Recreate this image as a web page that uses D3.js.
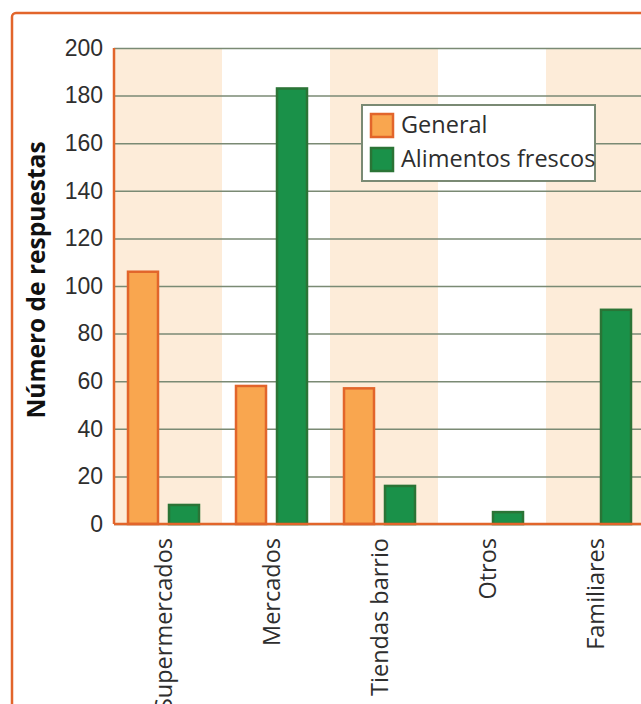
<!DOCTYPE html>
<html>
<head>
<meta charset="utf-8">
<script src="https://cdn.jsdelivr.net/npm/d3@7"></script>
<style>
  body { margin: 0; background: #fff; }
  svg { display: block; font-family: "Open Sans", sans-serif; }
</style>
</head>
<body>
<svg id="chart" width="641" height="704"></svg>
<script>
(function () {
    'use strict';

    var categories = ["Supermercados", "Mercados", "Tiendas barrio", "Otros", "Familiares"];
    var general = [106, 58, 57, 0, 0];
    var frescos = [8, 183, 16, 5, 90];
    var seriesNames = ["General", "Alimentos frescos"];
    var yTicks = [0, 20, 40, 60, 80, 100, 120, 140, 160, 180, 200];

    var orange = "#f9a64f", orangeLine = "#e2652b",
        green = "#1a9149", greenLine = "#2b7436",
        shade = "#fdecd9", grid = "#7a8a74", ink = "#2e2e2e";

    var svg = d3.select("#chart");
    var left = 114, right = 654, top = 48, bottom = 524;

    // outer frame, runs off the right and bottom of the picture
    svg.append("rect")
        .attr("x", 12).attr("y", 13)
        .attr("width", 700).attr("height", 760)
        .attr("rx", 4)
        .attr("fill", "none")
        .attr("stroke", orangeLine)
        .attr("stroke-width", 2.5);

    var x = d3.scaleBand().domain(categories).range([left, right]);
    var y = d3.scaleLinear().domain([0, 200]).range([bottom, top]);
    var inner = d3.scaleOrdinal().domain(seriesNames).range([-40, 1]);

    svg.selectAll("rect.band")
        .data(categories)
        .enter()
        .append("rect")
        .attr("class", "band")
        .attr("x", function (d) { return x(d); })
        .attr("y", top)
        .attr("width", x.bandwidth())
        .attr("height", bottom - top)
        .attr("fill", function (d, i) { return i % 2 === 0 ? shade : "#fff"; });

    svg.append("g")
        .attr("transform", "translate(" + left + ",0)")
        .call(d3.axisLeft(y).tickValues(yTicks).tickSize(-(right - left)).tickPadding(11))
        .call(function (g) {
            g.select(".domain").remove();
            g.selectAll(".tick line").attr("stroke", grid).attr("stroke-width", 1.5);
            g.selectAll(".tick text")
                .attr("font-size", 23)
                .attr("fill", ink);
        });

    var rows = categories.map(function (c, i) {
        return { cat: c, values: [general[i], frescos[i]] };
    });

    var groups = svg.selectAll("g.cat")
        .data(rows)
        .enter()
        .append("g")
        .attr("class", "cat");

    groups.selectAll("rect")
        .data(function (d) {
            return d.values.map(function (v, j) {
                return { cat: d.cat, name: seriesNames[j], value: v, j: j };
            }).filter(function (e) { return e.value > 0; });
        })
        .enter()
        .append("rect")
        .attr("x", function (d) { return x(d.cat) + x.bandwidth() / 2 + inner(d.name); })
        .attr("y", function (d) { return y(d.value); })
        .attr("width", 30)
        .attr("height", function (d) { return bottom - y(d.value); })
        .attr("fill", function (d) { return d.j === 0 ? orange : green; })
        .attr("stroke", function (d) { return d.j === 0 ? orangeLine : greenLine; })
        .attr("stroke-width", 2.5);

    // axis lines
    svg.append("line")
        .attr("x1", left).attr("x2", left)
        .attr("y1", top).attr("y2", bottom)
        .attr("stroke", orangeLine).attr("stroke-width", 2.5);
    svg.append("line")
        .attr("x1", left).attr("x2", 641)
        .attr("y1", bottom).attr("y2", bottom)
        .attr("stroke", orangeLine).attr("stroke-width", 2.5);

    // category labels
    svg.selectAll("text.cat")
        .data(categories)
        .enter()
        .append("text")
        .attr("class", "cat")
        .attr("transform", function (d) {
            return "translate(" + (x(d) + x.bandwidth() / 2 - 4) + "," + 538 + ") rotate(-90)";
        })
        .attr("text-anchor", "end")
        .attr("dy", "0.35em")
        .attr("font-size", 23.5)
        .attr("fill", ink)
        .text(function (d) { return d; });

    svg.append("text")
        .attr("transform", "translate(36," + 280 + ") rotate(-90)")
        .attr("text-anchor", "middle")
        .attr("dy", "0.35em")
        .attr("font-size", 24.5)
        .attr("font-weight", 700)
        .attr("fill", "#111")
        .text("Número de respuestas");

    // legend
    var legend = svg.append("g").attr("transform", "translate(362,105)");
    legend.append("rect")
        .attr("width", 233).attr("height", 76)
        .attr("fill", "#fff")
        .attr("stroke", grid).attr("stroke-width", 2);
    var items = legend.selectAll("g")
        .data(seriesNames)
        .enter()
        .append("g")
        .attr("transform", function (d, i) { return "translate(9," + (9 + i * 34) + ")"; });
    items.append("rect")
        .attr("width", 22).attr("height", 23)
        .attr("fill", function (d, i) { return i === 0 ? orange : green; })
        .attr("stroke", function (d, i) { return i === 0 ? orangeLine : greenLine; })
        .attr("stroke-width", 2.5);
    items.append("text")
        .attr("x", 30).attr("y", 11)
        .attr("dy", "0.35em")
        .attr("font-size", 23.5)
        .attr("fill", ink)
        .text(function (d) { return d; });
})();
</script>
</body>
</html>
